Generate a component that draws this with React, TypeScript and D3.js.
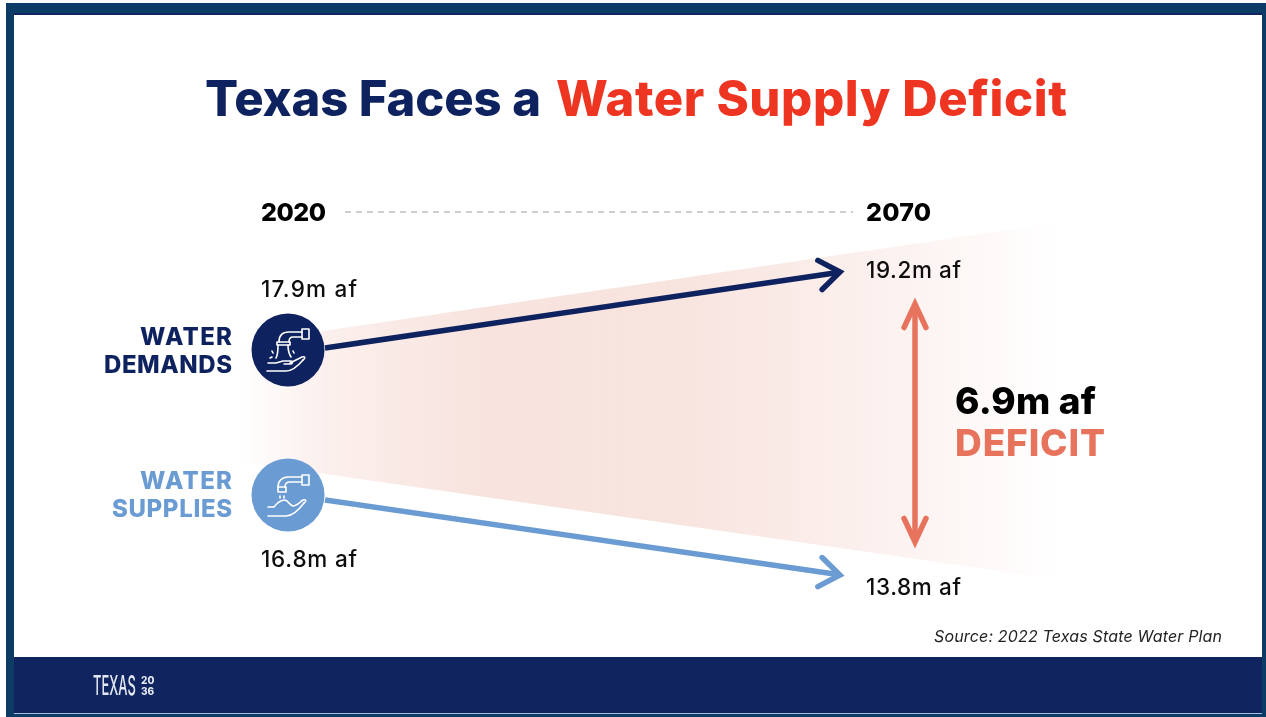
import React from "react";
import * as d3 from "d3";

const years = [2020, 2070];
const demandValues = [17.9, 19.2];
const supplyValues = [16.8, 13.8];
const deficitValue = 6.9;
const yScaleDomain = [13.8, 16.8, 17.9, 19.2];
const sourceNote = "Source: 2022 Texas State Water Plan";

const NAVY = "#10245f";
const BORDER = "#0c3b66";
const BLUE = "#6b9bd2";
const RED = "#ee3524";
const CORAL = "#e8735d";
const WEDGE = "#f8e3de";
const FONT = "Inter, 'Open Sans', sans-serif";

const x = d3.scaleLinear().domain(years).range([325, 840]);
const y = d3.scaleLinear().domain(yScaleDomain).range([575, 500, 348, 272]);

const wedge = d3.area<number[]>().x(d => d[0]).y0(d => d[1]).y1(d => d[2])([
  [235, 344, 461],
  [1062, 222, 580],
]) as string;

function Chevron({ tipX, tipY, angle, size, spreadDeg, color, w }: any) {
  const a = (angle * Math.PI) / 180;
  const spread = (spreadDeg * Math.PI) / 180;
  const p = (t: number) => [tipX - size * Math.cos(a + t), tipY - size * Math.sin(a + t)];
  const [x1, y1] = p(spread);
  const [x2, y2] = p(-spread);
  return (
    <path
      d={`M${x1},${y1}L${tipX},${tipY}L${x2},${y2}`}
      fill="none"
      stroke={color}
      strokeWidth={w}
      strokeLinecap="round"
      strokeLinejoin="miter"
    />
  );
}

function DemandIcon({ cx, cy }: { cx: number; cy: number }) {
  return (
    <g transform={`translate(${cx},${cy})`} fill="none" stroke="#fff" strokeWidth={1.6} strokeLinecap="round" strokeLinejoin="round">
      <path d="M-9,-8 C-9,-15 -5,-18 1,-18 H14 M1,-8 C1,-11 2,-13 5,-13 H14" />
      <path d="M14,-21 H21 V-11 H14 Z" />
      <path d="M-11,-8 H2 V-5 H-11 Z" />
      <path d="M-10,-5 C-10,1 -10,5 -12,8 M0,-5 C0,0 1,4 3,7" />
      <path d="M-16,1 L-15,3 M5,1 L6,3 M-18,8 L-16,7" />
      <path d="M-20,13 H-12 L-5,11 H3 C5,11 5,14 2,14 H-4 M2,13 L14,7 C17,6 18,8 15,10" />
      <path d="M-21,21 H-2 C4,21 10,16 15,10" />
    </g>
  );
}

function SupplyIcon({ cx, cy }: { cx: number; cy: number }) {
  return (
    <g transform={`translate(${cx},${cy})`} fill="none" stroke="#fff" strokeWidth={1.6} strokeLinecap="round" strokeLinejoin="round">
      <path d="M-10,-8 C-10,-14 -6,-18 0,-18 H14 M-3,-8 C-3,-11 -1,-13 2,-13 H14" />
      <path d="M14,-20 H21 V-10 H14 Z" />
      <path d="M-10,-8 H-2 V-3 H-10 Z" />
      <path d="M-8,1 V3 M-4,1 V3" />
      <path d="M-20,12 H-14 C-11,8 -7,5 -3,5 C1,6 1,10 5,11 C8,11 11,8 15,5 C18,4 19,6 16,8" />
      <path d="M-20,21 H-2 C4,21 10,16 16,8" />
    </g>
  );
}

export default function App() {
  const [x0, x1] = years.map(x);
  const dy0 = y(demandValues[0]);
  const dy1 = y(demandValues[1]);
  const sy0 = y(supplyValues[0]);
  const sy1 = y(supplyValues[1]);
  const dAngle = (Math.atan2(dy1 - dy0, x1 - x0) * 180) / Math.PI;
  const sAngle = (Math.atan2(sy1 - sy0, x1 - x0) * 180) / Math.PI;

  return (
    <svg
      width={1266}
      height={717}
      style={{ position: "fixed", left: 0, top: 0, display: "block" }}
      fontFamily={FONT}
    >
      <defs>
        <linearGradient id="fade" gradientUnits="userSpaceOnUse" x1={235} x2={1062} y1={0} y2={0}>
          <stop offset="0" stopColor={WEDGE} stopOpacity={0} />
          <stop offset="0.11" stopColor={WEDGE} stopOpacity={0.55} />
          <stop offset="0.3" stopColor={WEDGE} stopOpacity={1} />
          <stop offset="0.55" stopColor={WEDGE} stopOpacity={0.95} />
          <stop offset="0.78" stopColor={WEDGE} stopOpacity={0.5} />
          <stop offset="1" stopColor={WEDGE} stopOpacity={0} />
        </linearGradient>
        <filter id="soft" x="0" y="0" width="100%" height="100%">
          <feGaussianBlur stdDeviation={0.45} />
        </filter>
      </defs>

      <rect x={0} y={0} width={1266} height={717} fill="#fff" />
      <rect x={6} y={3} width={1260} height={714} fill={BORDER} />
      <rect x={14} y={13} width={1248} height={2} fill={NAVY} />
      <rect x={14} y={15} width={1248} height={642} fill="#fff" />
      <rect x={14} y={657} width={1248} height={56} fill={NAVY} />
      <rect x={14} y={713} width={1248} height={1} fill="#a9bedd" />

      <g filter="url(#soft)">
        <text x={205} y={116} fontSize={49} fontWeight={800} fill={NAVY} textLength={336}>Texas Faces a</text>
        <text x={556} y={116} fontSize={49} fontWeight={800} fill={RED} textLength={511}>Water Supply Deficit</text>

        <text x={261} y={221} fontSize={25} fontWeight={800} fill="#000" textLength={65}>{years[0]}</text>
        <text x={866} y={221} fontSize={25} fontWeight={800} fill="#000" textLength={65}>{years[1]}</text>
        <line x1={345} x2={853} y1={212} y2={212} stroke="#bdbdbd" strokeWidth={1.5} strokeDasharray="6 5" />

        <path d={wedge} fill="url(#fade)" />

        <line x1={x0} y1={dy0} x2={x1 - 2} y2={dy1 + 0.5} stroke={NAVY} strokeWidth={5.5} />
        <Chevron tipX={x1} tipY={dy1} angle={dAngle} size={25} spreadDeg={36} color={NAVY} w={5.5} />
        <line x1={x0} y1={sy0} x2={x1 - 2} y2={sy1 - 0.5} stroke={BLUE} strokeWidth={5.5} />
        <Chevron tipX={x1} tipY={sy1} angle={sAngle} size={25} spreadDeg={36} color={BLUE} w={5.5} />

        <circle cx={288} cy={350} r={36.5} fill={NAVY} />
        <DemandIcon cx={288} cy={350} />
        <circle cx={288} cy={495} r={36.5} fill={BLUE} />
        <SupplyIcon cx={288} cy={495} />

        <g fontSize={24} fontWeight={800}>
          <text x={140} y={345} fill={NAVY} textLength={92}>WATER</text>
          <text x={104} y={373} fill={NAVY} textLength={128}>DEMANDS</text>
          <text x={140} y={489} fill={BLUE} textLength={92}>WATER</text>
          <text x={112} y={517} fill={BLUE} textLength={120}>SUPPLIES</text>
        </g>

        <g fontSize={22.5} fontWeight={500} fill="#111">
          <text x={261} y={297} textLength={96}>{demandValues[0]}m af</text>
          <text x={261} y={567} textLength={96}>{supplyValues[0]}m af</text>
          <text x={866} y={278} textLength={95}>{demandValues[1]}m af</text>
          <text x={866} y={595} textLength={95}>{supplyValues[1]}m af</text>
        </g>

        <line x1={915} x2={915} y1={306} y2={540} stroke={CORAL} strokeWidth={5.5} />
        <Chevron tipX={915} tipY={304} angle={-90} size={26} spreadDeg={25} color={CORAL} w={5.5} />
        <Chevron tipX={915} tipY={542} angle={90} size={26} spreadDeg={25} color={CORAL} w={5.5} />

        <text x={955} y={414} fontSize={37} fontWeight={800} fill="#000" textLength={141}>{deficitValue}m af</text>
        <text x={955} y={456} fontSize={37} fontWeight={800} fill={CORAL} textLength={150}>DEFICIT</text>

        <text x={934} y={642} fontSize={16} fontStyle="italic" fill="#222" textLength={288}>{sourceNote}</text>

        <g fill="#e4e8f2">
          <text transform="translate(93,695) scale(0.48,1)" fontSize={27} fontWeight={500}>TEXAS</text>
          <text x={141} y={684} fontSize={10} fontWeight={800}>20</text>
          <text x={141} y={695} fontSize={10} fontWeight={800}>36</text>
        </g>
      </g>
    </svg>
  );
}
